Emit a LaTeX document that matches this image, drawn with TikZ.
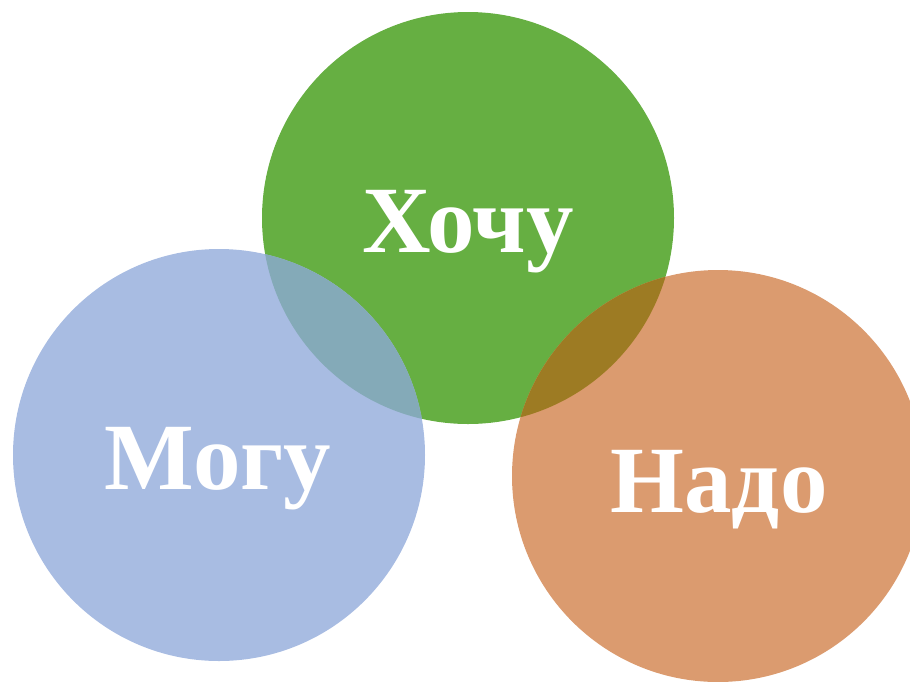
\documentclass[tikz,border=0pt]{standalone}
\usepackage{fontspec}
\setmainfont{Liberation Serif}
\definecolor{wantgreen}{HTML}{66AF42}
\definecolor{canblue}{HTML}{A8BCE2}
\definecolor{mustorange}{HTML}{DB9B6F}
\definecolor{canwant}{HTML}{84AAB8}
\definecolor{wantmust}{HTML}{9D7B23}
\begin{document}
\begin{tikzpicture}[x=1pt,y=-1pt,
	label/.style={
		text=white, anchor=base, inner sep=0pt,
		font=\bfseries\fontsize{95}{95}\selectfont
	}]
	\useasboundingbox (0,0) rectangle (910,681);
	
	% Centres of the three circles
	\coordinate (WANT) at (468,218);
	\coordinate (CAN) at (219,455);
	\coordinate (MUST) at (718,476);
	\def\rad{206}
	
	% Circles
	\fill[wantgreen] (WANT) circle (\rad);
	\fill[canblue] (CAN) circle (\rad);
	\fill[mustorange] (MUST) circle (\rad);
	
	% Overlaps
	\begin{scope}
		\clip (WANT) circle (\rad);
		\fill[canwant] (CAN) circle (\rad);
		\fill[wantmust] (MUST) circle (\rad);
	\end{scope}
	
	% Labels
	\node[label] (want) at (468,252) {Хочу};
	\node[label] (can) at (218,489) {Могу};
	\node[label] (must) at (719,512) {Надо};
\end{tikzpicture}
\end{document}
